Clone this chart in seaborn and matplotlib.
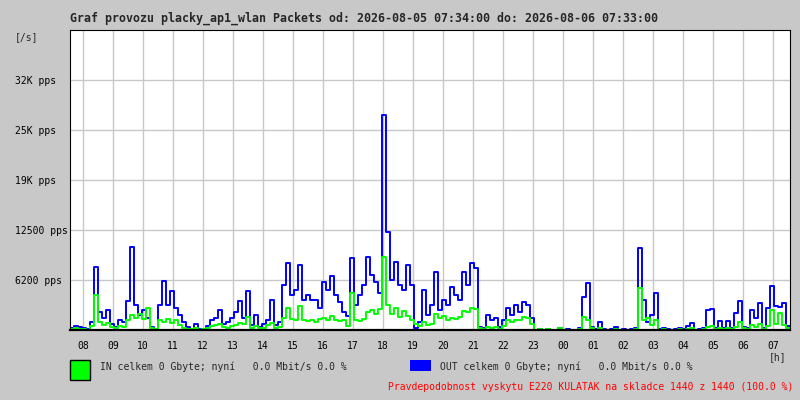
import numpy as np
import pandas as pd
import seaborn as sns
import matplotlib.pyplot as plt
from matplotlib.patches import Rectangle

# minutes since 07:34, one sample every 8 minutes
step_min = 8

out_kpps = [0.3, 0.5, 0.4, 0.3, 0.1, 1.0, 7.9, 2.2, 1.5, 2.5,
            0.8, 0.4, 1.2, 1.0, 3.6, 10.4, 3.1, 1.9, 2.5, 1.5,
            0.4, 0.1, 3.1, 6.1, 3.1, 4.9, 2.8, 1.9, 1.0, 0.4,
            0.1, 0.8, 0.1, 0.1, 0.5, 1.2, 1.5, 2.5, 0.8, 1.0,
            1.5, 2.2, 3.6, 1.5, 4.9, 0.6, 1.9, 0.4, 0.8, 1.2,
            3.8, 0.6, 1.0, 5.6, 8.4, 4.4, 5.0, 8.1, 3.8, 4.4,
            3.8, 3.8, 2.8, 6.0, 5.0, 6.8, 4.4, 3.5, 2.2, 1.8,
            9.0, 3.1, 4.4, 5.6, 9.1, 6.9, 6.0, 4.6, 26.9, 12.2,
            6.2, 8.5, 5.6, 5.0, 8.1, 5.6, 0.2, 1.0, 5.0, 1.9,
            3.1, 7.2, 2.5, 3.8, 3.1, 5.4, 4.4, 3.8, 7.2, 5.6,
            8.4, 7.8, 0.4, 0.2, 1.9, 1.2, 1.5, 0.4, 1.2, 2.8,
            1.9, 3.1, 2.2, 3.5, 3.1, 1.5, 0.0, 0.1, 0.0, 0.1,
            0.0, 0.0, 0.2, 0.0, 0.1, 0.0, 0.0, 0.2, 4.1, 5.9,
            0.4, 0.1, 1.0, 0.1, 0.0, 0.1, 0.4, 0.0, 0.1, 0.0,
            0.1, 0.2, 10.2, 3.8, 1.0, 1.9, 4.6, 0.1, 0.2, 0.1,
            0.0, 0.1, 0.2, 0.1, 0.5, 0.9, 0.0, 0.1, 0.2, 2.5,
            2.6, 0.3, 1.1, 0.3, 1.1, 0.3, 2.1, 3.6, 0.4, 0.2,
            2.5, 1.5, 3.4, 0.3, 2.8, 5.5, 3.0, 2.9, 3.4, 0.5]

in_kpps = [0.1, 0.2, 0.1, 0.1, 0.0, 0.5, 4.4, 1.0, 0.6, 0.9,
           0.4, 0.2, 0.5, 0.4, 1.2, 1.9, 1.5, 2.0, 1.4, 2.8,
           0.2, 0.1, 1.2, 1.0, 1.4, 0.9, 1.2, 0.6, 0.3, 0.1,
           0.1, 0.2, 0.0, 0.1, 0.2, 0.5, 0.6, 0.8, 0.4, 0.3,
           0.5, 0.6, 0.9, 0.8, 1.6, 0.3, 0.5, 0.2, 0.3, 0.6,
           0.9, 0.3, 0.4, 1.5, 2.8, 1.4, 1.2, 3.0, 1.3, 1.1,
           1.2, 1.0, 1.4, 1.5, 1.3, 1.8, 1.2, 1.1, 1.3, 0.5,
           4.6, 1.2, 1.1, 1.4, 2.2, 2.5, 2.0, 2.6, 9.1, 3.1,
           2.0, 2.8, 1.6, 2.4, 1.8, 1.3, 0.8, 0.5, 1.0, 0.6,
           0.8, 2.0, 1.5, 1.8, 1.2, 1.5, 1.4, 1.6, 2.4, 2.2,
           2.8, 2.6, 0.3, 0.1, 0.4, 0.3, 0.4, 0.1, 0.5, 1.2,
           1.0, 1.3, 1.2, 1.6, 1.5, 0.8, 0.0, 0.1, 0.0, 0.1,
           0.0, 0.0, 0.2, 0.0, 0.0, 0.0, 0.0, 0.1, 1.6, 1.2,
           0.2, 0.0, 0.2, 0.0, 0.0, 0.0, 0.1, 0.0, 0.0, 0.0,
           0.0, 0.1, 5.2, 1.2, 1.5, 0.6, 1.2, 0.0, 0.1, 0.0,
           0.0, 0.0, 0.1, 0.0, 0.1, 0.2, 0.0, 0.0, 0.1, 0.4,
           0.5, 0.1, 0.3, 0.1, 0.2, 0.1, 0.4, 1.0, 0.2, 0.1,
           0.6, 0.4, 0.8, 0.1, 0.5, 2.5, 0.8, 2.1, 0.6, 0.2]

hour_ticks = [26 + 60 * k for k in range(24)]
hour_labels = ['08', '09', '10', '11', '12', '13', '14', '15', '16', '17', '18', '19',
               '20', '21', '22', '23', '00', '01', '02', '03', '04', '05', '06', '07']
y_ticks = [6250, 12500, 18750, 25000, 31250]
y_labels = ['6200 pps', '12500 pps', '19K pps', '25K pps', '32K pps']

title = 'Graf provozu placky_ap1_wlan Packets od: 2026-08-05 07:34:00 do: 2026-08-06 07:33:00'
in_text = 'IN celkem 0 Gbyte; nyní   0.0 Mbit/s 0.0 %'
out_text = 'OUT celkem 0 Gbyte; nyní   0.0 Mbit/s 0.0 %'
note_text = 'Pravdepodobnost vyskytu E220 KULATAK na skladce 1440 z 1440 (100.0 %)'

n = len(out_kpps)
minutes = np.arange(n + 1) * step_min
df = pd.DataFrame({
    'minute': minutes,
    'out': np.append(out_kpps, out_kpps[-1]) * 1000,
    'in': np.append(in_kpps, in_kpps[-1]) * 1000,
})

sns.set_style('white')
plt.rcParams['font.family'] = ['DejaVu Sans Mono']

grey = '#c8c8c8'
fig = plt.figure(figsize=(8, 4), dpi=100, facecolor=grey)
ax = fig.add_axes([70 / 800, 70 / 400, 720 / 800, 300 / 400])
ax.set_facecolor('white')

sns.lineplot(data=df, x='minute', y='out', ax=ax, color='#0000ff', lw=1.4,
             drawstyle='steps-post', estimator=None)
sns.lineplot(data=df, x='minute', y='in', ax=ax, color='#00ff00', lw=1.4,
             drawstyle='steps-post', estimator=None)

ax.set_xlim(0, 1440)
ax.set_ylim(0, 37500)
ax.set_xticks(hour_ticks)
ax.set_xticklabels(hour_labels)
ax.set_yticks(y_ticks)
ax.set_yticklabels(y_labels)
ax.set_xlabel('')
ax.set_ylabel('')
ax.grid(True, color=grey, lw=1.0)
ax.set_axisbelow(True)
ax.tick_params(axis='both', length=0, labelsize=7, colors='black')
ax.tick_params(axis='x', pad=8)
ax.tick_params(axis='y', pad=39.6)
for lab in ax.get_yticklabels():
    lab.set_horizontalalignment('left')

for side in ['left', 'top', 'right']:
    ax.spines[side].set_color('black')
    ax.spines[side].set_linewidth(0.8)
ax.spines['bottom'].set_color('black')
ax.spines['bottom'].set_linewidth(1.6)

fig.text(70 / 800, 1 - 18 / 400, title, fontsize=8.4, fontweight='bold',
         ha='left', va='center')
fig.text(15 / 800, 1 - 37 / 400, '[/s]', fontsize=7, ha='left', va='center')
fig.text(778 / 800, 1 - 357 / 400, '[h]', fontsize=7, ha='center', va='center')

fig.patches.append(Rectangle((70 / 800, 1 - 380 / 400), 20 / 800, 20 / 400,
                             transform=fig.transFigure, facecolor='#00ff00',
                             edgecolor='black', lw=1.0))
fig.patches.append(Rectangle((410 / 800, 1 - 371 / 400), 21 / 800, 11 / 400,
                             transform=fig.transFigure, facecolor='#0000ff',
                             edgecolor='none'))
fig.text(100 / 800, 1 - 367 / 400, in_text, fontsize=7, ha='left', va='center')
fig.text(440 / 800, 1 - 367 / 400, out_text, fontsize=7, ha='left', va='center')
fig.text(793 / 800, 1 - 387 / 400, note_text, fontsize=7, color='red',
         ha='right', va='center')

fig.savefig('out.png', dpi=100, facecolor=grey)
